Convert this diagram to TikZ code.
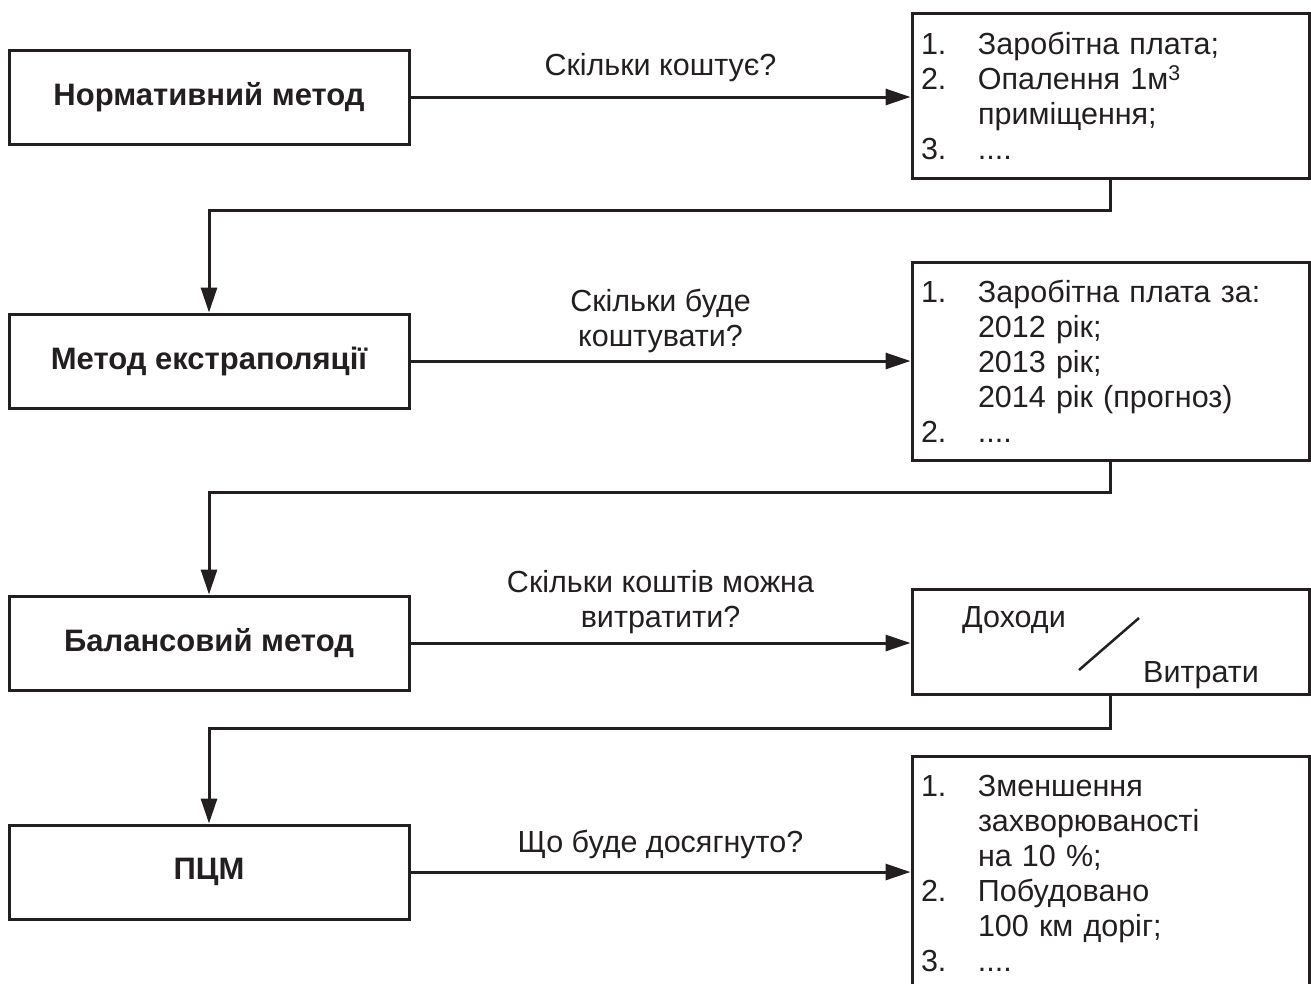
\documentclass[tikz,border=0pt]{standalone}
\usepackage{fontspec}
\setmainfont{Liberation Sans}
\usetikzlibrary{arrows.meta}
\definecolor{ink}{RGB}{35,31,32}
\newcommand{\itm}[2]{\makebox[57pt][l]{#1}#2}
\newcommand{\cont}[1]{\hspace*{57pt}#1}

\begin{document}
\begin{tikzpicture}[x=1pt, y=-1pt, line width=3pt, color=ink,
	method/.style={draw, minimum width=400pt, minimum height=94pt, inner sep=0pt, font=\fontsize{31}{35}\selectfont\bfseries},
	result/.style={draw, minimum width=397pt, text width=379pt, inner xsep=9pt, inner ysep=0pt, align=left, font=\fontsize{30.5}{35}\selectfont},
	question/.style={align=center, inner sep=0pt, text depth=6pt, font=\fontsize{30.5}{35}\selectfont},
	word/.style={inner sep=0pt, anchor=base, font=\fontsize{30.5}{35}\selectfont},
	arr/.style={-{Triangle[length=25pt, width=16pt]}}]
	\useasboundingbox (0,0) rectangle (1311,983);

	% Define the nodes with specific positions
	\node[method] (m1) at (209, 97) {Нормативний метод};
	\node[method] (m2) at (209, 361) {Метод екстраполяції};
	\node[method] (m3) at (209, 643) {Балансовий метод};
	\node[method] (m4) at (209, 872) {ПЦМ};

	\node[result, minimum height=165pt] (r1) at (1110.5, 95.5) {\itm{1.}{Заробітна плата;}\\ \itm{2.}{Опалення 1м\textsuperscript{3}}\\ \cont{приміщення;}\\ \itm{3.}{....}};
	\node[result, minimum height=198pt] (r2) at (1110.5, 361) {\itm{1.}{Заробітна плата за:}\\ \cont{2012 рік;}\\ \cont{2013 рік;}\\ \cont{2014 рік (прогноз)}\\ \itm{2.}{....}};
	\node[result, minimum height=105pt] (r3) at (1110.5, 641.5) {};
	\node[result, minimum height=234pt] (r4) at (1110.5, 873) {\itm{1.}{Зменшення}\\ \cont{захворюваності}\\ \cont{на 10 \%;}\\ \itm{2.}{Побудовано}\\ \cont{100 км доріг;}\\ \itm{3.}{....}};

	% Incomes over costs
	\node[word] (inc) at (1014, 627) {Доходи};
	\node[word] (out) at (1201, 682) {Витрати};
	\draw[line width=2.5pt] (1079, 670) -- (1139, 618);

	% Draw the edges between nodes with labels
	\draw[arr] (m1.east) -- node[question, above=14pt] {Скільки коштує?} (m1.east -| r1.west);
	\draw[arr] (m2.east) -- node[question, above=7pt] {Скільки буде\\ коштувати?} (m2.east -| r2.west);
	\draw[arr] (m3.east) -- node[question, above=8pt] {Скільки коштів можна\\ витратити?} (m3.east -| r3.west);
	\draw[arr] (m4.east) -- node[question, above=12pt] {Що буде досягнуто?} (m4.east -| r4.west);

	\draw[arr] (r1.south) -- ++(0, 31) -| (m2.north);
	\draw[arr] (r2.south) -- ++(0, 31) -| (m3.north);
	\draw[arr] (r3.south) -- ++(0, 33) -| (m4.north);
\end{tikzpicture}
\end{document}
